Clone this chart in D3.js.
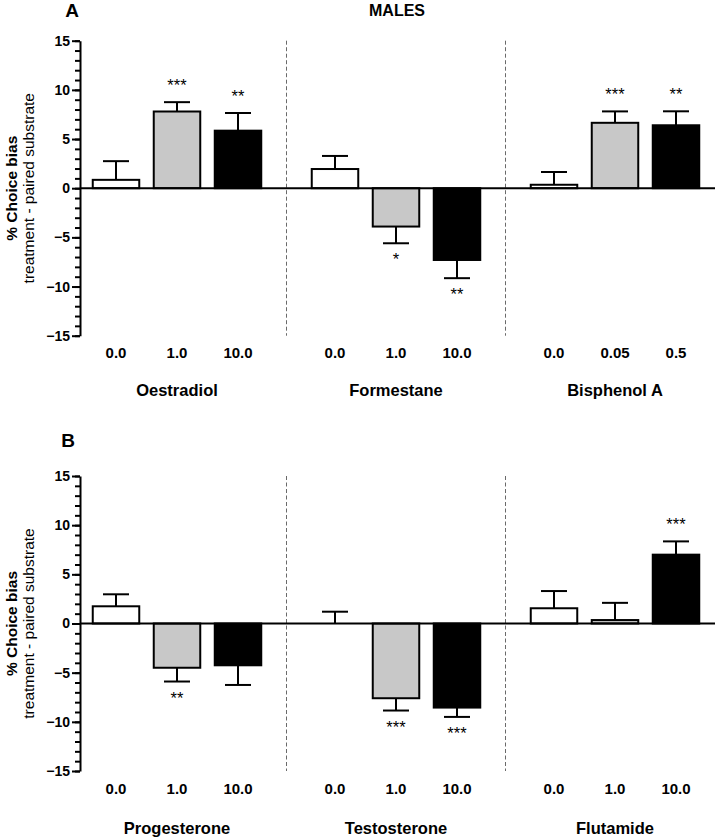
<!DOCTYPE html>
<html>
<head>
<meta charset="utf-8">
<script src="https://cdn.jsdelivr.net/npm/d3@7"></script>
<style>
  html, body { margin: 0; padding: 0; background: #fff; }
  svg { display: block; font-family: "Liberation Sans", Arial, sans-serif; }
</style>
</head>
<body>
<svg id="chart" width="716" height="839"></svg>
<script>
// ---------------- data ----------------
const doseLevels = [0, 1, 2];
const doseFills = ["#ffffff", "#c8c8c8", "#000000"];
const yTicksMajor = [-15, -10, -5, 0, 5, 10, 15];
const yTicksMinor = d3.range(-15, 16, 1);

const groupsA = ["Oestradiol", "Formestane", "Bisphenol A"];
const dosesA = [["0.0", "1.0", "10.0"], ["0.0", "1.0", "10.0"], ["0.0", "0.05", "0.5"]];
const meansA = [[0.85, 7.8, 5.85], [1.95, -3.9, -7.3], [0.35, 6.65, 6.4]];
const semA = [[1.9, 0.95, 1.8], [1.33, 1.7, 1.85], [1.3, 1.16, 1.42]];
const sigA = [["", "***", "**"], ["", "*", "**"], ["", "***", "**"]];

const groupsB = ["Progesterone", "Testosterone", "Flutamide"];
const dosesB = [["0.0", "1.0", "10.0"], ["0.0", "1.0", "10.0"], ["0.0", "1.0", "10.0"]];
const meansB = [[1.75, -4.5, -4.25], [0, -7.6, -8.55], [1.55, 0.35, 7.0]];
const semB = [[1.22, 1.4, 2.0], [1.2, 1.25, 0.95], [1.75, 1.75, 1.35]];
const sigB = [["", "**", ""], ["", "***", "***"], ["", "", "***"]];

const panelLetters = ["A", "B"];
const mainTitle = "MALES";
const yTitle1 = "% Choice bias";
const yTitle2 = "treatment - paired substrate";

// ---------------- layout ----------------
const svg = d3.select("#chart");
const axisX = 80, lineEnd = 715;
const barW = 46.5, capW = 26;

const xGroup = d3.scalePoint().domain([0, 1, 2]).range([177, 615]);
const xInner = d3.scalePoint().domain(doseLevels).range([-61, 61]);

function drawPanel(cfg) {
  const y = d3.scaleLinear().domain([-15, 15]).range([cfg.yBottom, cfg.yTop]);
  const g = svg.append("g");

  // panel letter
  g.append("text").attr("x", cfg.letterX).attr("y", cfg.letterY)
    .attr("text-anchor", "middle").attr("font-size", 19).attr("font-weight", "bold")
    .text(cfg.letter);

  // dashed separators
  [0.5, 1.5].forEach(k => {
    const xs = (xGroup(Math.floor(k)) + xGroup(Math.ceil(k))) / 2;
    g.append("line").attr("x1", xs).attr("x2", xs)
      .attr("y1", y(15)).attr("y2", y(-15))
      .attr("stroke", "#6a6a6a").attr("stroke-width", 1).attr("stroke-dasharray", "4,2.5");
  });

  // bars
  cfg.groups.forEach((grp, gi) => {
    doseLevels.forEach(di => {
      const v = cfg.means[gi][di], s = cfg.sem[gi][di];
      const cx = xGroup(gi) + xInner(di);
      const up = v >= 0;
      const errEnd = up ? v + s : v - s;
      // error bar
      g.append("line").attr("x1", cx).attr("x2", cx)
        .attr("y1", y(v)).attr("y2", y(errEnd))
        .attr("stroke", "#000").attr("stroke-width", 2);
      g.append("line").attr("x1", cx - capW / 2).attr("x2", cx + capW / 2)
        .attr("y1", y(errEnd)).attr("y2", y(errEnd))
        .attr("stroke", "#000").attr("stroke-width", 2);
      // bar
      g.append("rect")
        .attr("x", cx - barW / 2).attr("width", barW)
        .attr("y", Math.min(y(v), y(0))).attr("height", Math.abs(y(v) - y(0)))
        .attr("fill", doseFills[di]).attr("stroke", "#000").attr("stroke-width", 2);
      // significance
      const sig = cfg.sig[gi][di];
      if (sig) {
        g.append("text").attr("x", cx)
          .attr("y", up ? y(errEnd) - 11 : y(errEnd) + 22)
          .attr("text-anchor", "middle").attr("font-size", 16.5)
          .text(sig);
      }
      // dose label
      g.append("text").attr("x", cx).attr("y", cfg.doseY)
        .attr("text-anchor", "middle").attr("font-size", 15).attr("font-weight", "bold")
        .text(cfg.doses[gi][di]);
    });
    // group label
    g.append("text").attr("x", xGroup(gi)).attr("y", cfg.nameY)
      .attr("text-anchor", "middle").attr("font-size", 16.5).attr("font-weight", "bold")
      .text(grp);
  });

  // zero line
  g.append("line").attr("x1", axisX).attr("x2", lineEnd)
    .attr("y1", y(0)).attr("y2", y(0))
    .attr("stroke", "#000").attr("stroke-width", 2);

  // y axis
  const minor = g.append("g").attr("transform", `translate(${axisX},0)`)
    .call(d3.axisLeft(y).tickValues(yTicksMinor).tickSize(5).tickSizeOuter(0).tickFormat(""));
  minor.select(".domain").remove();
  minor.selectAll("line").attr("stroke-width", 2);
  const major = g.append("g").attr("transform", `translate(${axisX},0)`)
    .call(d3.axisLeft(y).tickValues(yTicksMajor).tickSize(8).tickSizeOuter(0).tickPadding(2));
  major.select(".domain").attr("stroke-width", 2);
  major.selectAll("line").attr("stroke-width", 2);
  major.selectAll("text").attr("font-size", 14).attr("font-weight", "bold")
    .attr("font-family", "Liberation Sans, Arial, sans-serif").attr("fill", "#000");

  // y titles
  const yc = y(0);
  g.append("text").attr("transform", `translate(11,${yc}) rotate(-90)`)
    .attr("text-anchor", "middle").attr("dominant-baseline", "central")
    .attr("font-size", 15.5).attr("font-weight", "bold").text(yTitle1);
  g.append("text").attr("transform", `translate(28,${yc}) rotate(-90)`)
    .attr("text-anchor", "middle").attr("dominant-baseline", "central")
    .attr("font-size", 15.5).text(yTitle2);
}

drawPanel({
  letter: panelLetters[0], letterX: 72, letterY: 17,
  yTop: 40.7, yBottom: 335.7,
  groups: groupsA, doses: dosesA, means: meansA, sem: semA, sig: sigA,
  doseY: 358, nameY: 396
});
drawPanel({
  letter: panelLetters[1], letterX: 68, letterY: 447,
  yTop: 476, yBottom: 771,
  groups: groupsB, doses: dosesB, means: meansB, sem: semB, sig: sigB,
  doseY: 794, nameY: 834
});

svg.append("text").attr("x", 397).attr("y", 16)
  .attr("text-anchor", "middle").attr("font-size", 16).attr("font-weight", "bold")
  .text(mainTitle);
</script>
</body>
</html>
